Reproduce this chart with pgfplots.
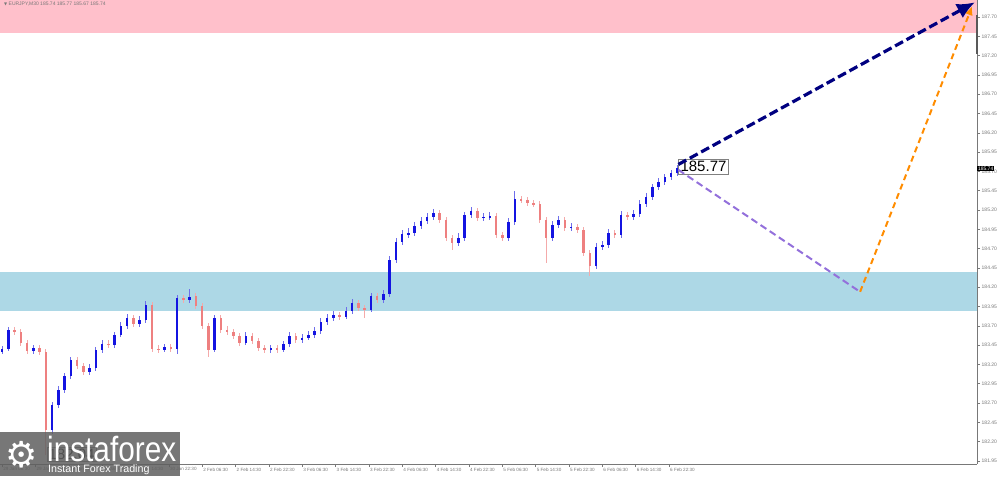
\documentclass[border=0pt]{standalone}
\usepackage{fontspec}
\setmainfont{Liberation Sans}
\newfontfamily\djv{DejaVu Sans}
\usepackage{pgfplots}
\usepackage{pgfplotstable}
\pgfplotsset{compat=1.18}
\usetikzlibrary{arrows.meta}
\definecolor{bullbody}{RGB}{20,20,225}
\definecolor{bullwick}{RGB}{110,110,235}
\definecolor{bearbody}{RGB}{238,128,128}
\definecolor{bearwick}{RGB}{244,170,170}
\definecolor{zonepink}{RGB}{255,192,203}
\definecolor{zoneblue}{RGB}{173,216,230}
\definecolor{navyarr}{RGB}{0,0,128}
\definecolor{purplearr}{RGB}{147,112,219}
\definecolor{orangearr}{RGB}{255,140,0}
\definecolor{axgray}{RGB}{120,120,120}
\definecolor{logogray}{RGB}{95,95,95}

% bullish candles: bar index, open, high, low, close
\pgfplotstableread{
x o h l c
0 183.36 183.44 183.33 183.40
3 183.40 183.68 183.38 183.65
15 183.37 183.45 183.34 183.41
24 182.35 182.72 182.30 182.68
27 182.68 182.92 182.64 182.87
30 182.87 183.09 182.83 183.05
33 183.05 183.30 183.01 183.26
42 183.10 183.20 183.06 183.15
45 183.15 183.43 183.12 183.39
48 183.39 183.52 183.35 183.47
54 183.45 183.62 183.41 183.58
57 183.58 183.75 183.55 183.70
60 183.70 183.86 183.66 183.80
66 183.72 183.83 183.68 183.78
69 183.78 184.02 183.74 183.97
78 183.39 183.47 183.36 183.42
84 183.40 184.10 183.33 184.06
90 184.04 184.18 184.00 184.08
102 183.39 183.84 183.36 183.80
117 183.48 183.62 183.45 183.57
129 183.39 183.45 183.35 183.41
135 183.39 183.51 183.36 183.47
138 183.47 183.62 183.43 183.57
144 183.52 183.59 183.48 183.54
147 183.54 183.63 183.51 183.58
150 183.58 183.68 183.54 183.63
153 183.63 183.80 183.60 183.75
156 183.75 183.85 183.71 183.80
159 183.80 183.89 183.76 183.84
165 183.82 183.94 183.79 183.89
168 183.89 184.05 183.85 184.00
177 183.91 184.13 183.88 184.09
183 184.04 184.16 184.00 184.11
186 184.11 184.60 184.07 184.55
189 184.55 184.84 184.51 184.79
192 184.79 184.94 184.75 184.89
195 184.89 184.97 184.84 184.90
198 184.90 185.04 184.86 184.99
201 184.99 185.11 184.95 185.06
204 185.06 185.16 185.02 185.11
207 185.11 185.21 185.07 185.16
219 184.77 184.90 184.73 184.84
222 184.84 185.18 184.80 185.14
225 185.14 185.24 185.10 185.19
231 185.10 185.16 185.06 185.11
234 185.11 185.18 185.07 185.12
243 184.84 185.10 184.80 185.05
246 185.05 185.45 185.01 185.34
264 184.84 185.06 184.80 185.01
267 185.01 185.12 184.97 185.07
273 184.97 185.03 184.93 184.98
285 184.48 184.77 184.44 184.72
288 184.72 184.80 184.68 184.75
291 184.75 184.95 184.71 184.90
297 184.88 185.19 184.84 185.14
303 185.11 185.20 185.07 185.15
306 185.15 185.33 185.11 185.28
309 185.28 185.42 185.24 185.37
312 185.37 185.54 185.33 185.50
315 185.50 185.61 185.46 185.56
318 185.56 185.67 185.52 185.63
321 185.63 185.72 185.59 185.68
324 185.68 185.78 185.64 185.75
}\upcandles

% bearish candles
\pgfplotstableread{
x o h l c
6 183.65 183.69 183.58 183.62
9 183.62 183.66 183.44 183.48
12 183.48 183.52 183.33 183.37
18 183.41 183.45 183.32 183.36
21 183.36 183.40 182.03 182.35
36 183.26 183.30 183.14 183.18
39 183.18 183.22 183.06 183.10
51 183.47 183.51 183.41 183.45
63 183.80 183.84 183.68 183.72
72 183.97 184.01 183.36 183.40
75 183.40 183.45 183.35 183.39
81 183.42 183.46 183.36 183.40
87 184.06 184.10 184.00 184.04
93 184.08 184.12 183.92 183.96
96 183.96 184.00 183.66 183.70
99 183.70 183.74 183.30 183.39
105 183.80 183.84 183.61 183.65
108 183.65 183.70 183.58 183.62
111 183.62 183.66 183.53 183.57
114 183.57 183.61 183.44 183.48
120 183.57 183.61 183.46 183.50
123 183.50 183.54 183.37 183.41
126 183.41 183.45 183.35 183.39
132 183.41 183.45 183.35 183.39
141 183.57 183.61 183.48 183.52
162 183.84 183.88 183.78 183.82
171 184.00 184.04 183.89 183.93
174 183.93 183.97 183.80 183.91
180 184.09 184.13 184.00 184.04
210 185.16 185.20 185.03 185.07
213 185.07 185.11 184.80 184.84
216 184.84 184.88 184.68 184.77
228 185.19 185.23 185.06 185.10
237 185.12 185.16 184.84 184.88
240 184.88 184.92 184.80 184.84
249 185.34 185.38 185.29 185.33
252 185.33 185.37 185.25 185.29
255 185.29 185.33 185.24 185.28
258 185.28 185.32 185.03 185.07
261 185.07 185.11 184.52 184.84
270 185.07 185.11 184.93 184.97
276 184.98 185.02 184.90 184.94
279 184.94 184.98 184.60 184.64
282 184.64 184.68 184.35 184.48
294 184.90 184.94 184.84 184.88
300 185.14 185.18 185.07 185.11
}\downcandles

\begin{document}
\begin{tikzpicture}
\begin{axis}[
  at={(0pt,476pt)}, anchor=north west,
  scale only axis, width=977pt, height=464pt,
  xmin=-1, xmax=467.8, ymin=181.91, ymax=187.92,
  axis x line=bottom, axis y line=right,
  axis line style={-, draw=axgray, line width=0.6pt},
  tick align=outside, major tick length=3pt,
  tick style={draw=axgray, line width=0.5pt},
  xtick={0,16,...,320},
  xticklabels={29 Jan 06:30,29 Jan 14:30,29 Jan 22:30,30 Jan 06:30,30 Jan 14:30,30 Jan 22:30,2 Feb 06:30,2 Feb 14:30,2 Feb 22:30,3 Feb 06:30,3 Feb 14:30,3 Feb 22:30,4 Feb 06:30,4 Feb 14:30,4 Feb 22:30,5 Feb 06:30,5 Feb 14:30,5 Feb 22:30,6 Feb 06:30,6 Feb 14:30,6 Feb 22:30},
  xticklabel style={anchor=north west, font=\fontsize{4.6}{5}\selectfont, text=axgray, inner sep=0.5pt, xshift=0.5pt},
  ytick={181.95,182.20,182.45,182.70,182.95,183.20,183.45,183.70,183.95,184.20,184.45,184.70,184.95,185.20,185.45,185.70,185.95,186.20,186.45,186.70,186.95,187.20,187.45,187.70},
  scaled y ticks=false,
  yticklabel style={anchor=west, font=\fontsize{5}{6}\selectfont, text=axgray, inner sep=0.5pt, xshift=1pt, /pgf/number format/fixed, /pgf/number format/fixed zerofill, /pgf/number format/precision=2, /pgf/number format/assume math mode=true},
  clip=false,
]
% zones
\addplot[fill=zonepink, draw=none, forget plot] coordinates {(-1,187.49) (467.8,187.49) (467.8,187.92) (-1,187.92)} -- cycle;
\addplot[fill=zoneblue, draw=none, forget plot] coordinates {(-1,183.89) (467.8,183.89) (467.8,184.40) (-1,184.40)} -- cycle;

% bearish wicks and bodies
\addplot[draw=none, mark=none, forget plot, error bars/.cd, y dir=both, y explicit, error mark=none, error bar style={draw=bearwick, line width=0.9pt}]
  table[x=x, y expr={(\thisrow{h}+\thisrow{l})/2}, y error expr={(\thisrow{h}-\thisrow{l})/2}] {\downcandles};
\addplot[draw=none, mark=none, forget plot, error bars/.cd, y dir=both, y explicit, error mark=none, error bar style={draw=bearbody, line width=2.5pt}]
  table[x=x, y expr={(\thisrow{o}+\thisrow{c})/2}, y error expr={max(abs(\thisrow{o}-\thisrow{c})/2,0.008)}] {\downcandles};
% bullish wicks and bodies
\addplot[draw=none, mark=none, forget plot, error bars/.cd, y dir=both, y explicit, error mark=none, error bar style={draw=bullwick, line width=0.9pt}]
  table[x=x, y expr={(\thisrow{h}+\thisrow{l})/2}, y error expr={(\thisrow{h}-\thisrow{l})/2}] {\upcandles};
\addplot[draw=none, mark=none, forget plot, error bars/.cd, y dir=both, y explicit, error mark=none, error bar style={draw=bullbody, line width=2.5pt}]
  table[x=x, y expr={(\thisrow{o}+\thisrow{c})/2}, y error expr={max(abs(\thisrow{o}-\thisrow{c})/2,0.008)}] {\upcandles};

% labels
\node[draw=gray, fill=white, anchor=west, font=\fontsize{15}{16}\selectfont, inner sep=1.5pt] at (axis cs:21.5,182.04) {182.04};
\node[draw=gray, fill=white, anchor=west, font=\fontsize{15}{16}\selectfont, inner sep=2pt] at (axis cs:324.5,185.76) {185.77};

% forecast arrows
\addplot[purplearr, line width=2pt, dash pattern=on 7pt off 4pt, forget plot] coordinates {(324.5,185.72) (411.7,184.14)};
\addplot[orangearr, line width=2pt, dash pattern=on 6pt off 4pt, -{Latex[length=9pt,width=8pt]}, forget plot] coordinates {(411.7,184.14) (465.5,187.84)};
\addplot[navyarr, line width=3.2pt, dash pattern=on 9pt off 4pt, -{Latex[length=18pt,width=16pt]}, forget plot] coordinates {(324.5,185.79) (466.8,187.89)};

% right-axis markers
\node[fill=black, text=white, anchor=west, font=\fontsize{5}{6}\selectfont, inner sep=0.8pt] at (axis cs:467.8,185.74) {185.74};
\draw[line width=1.5pt, gray!70!black] (axis cs:467.8,187.72) -- (axis cs:467.8,187.22);

% header
\node[anchor=north west, font=\fontsize{5}{6}\selectfont, text=axgray, inner sep=2pt, xshift=2pt] at (rel axis cs:0,1) {{\djv\fontsize{4}{5}\selectfont ▼} EURJPY,M30 185.74 185.77 185.67 185.74};
\end{axis}

% logo
\fill[logogray, opacity=0.85] (0,0) rectangle (180pt,44pt);
\node[anchor=base west, text=white, inner sep=0pt] at (5pt,9pt) {\djv\fontsize{36}{36}\selectfont ⚙};
\node[anchor=base west, text=white, inner sep=0pt] at (47pt,14pt) {\scalebox{0.85}[1]{\fontsize{35}{35}\selectfont instaforex}};
\node[anchor=base west, text=white, inner sep=0pt] at (48pt,4pt) {\fontsize{10.7}{11}\selectfont Instant Forex Trading};

\pgfresetboundingbox
\path (0,0) rectangle (1000pt,476pt);
\end{tikzpicture}
\end{document}
